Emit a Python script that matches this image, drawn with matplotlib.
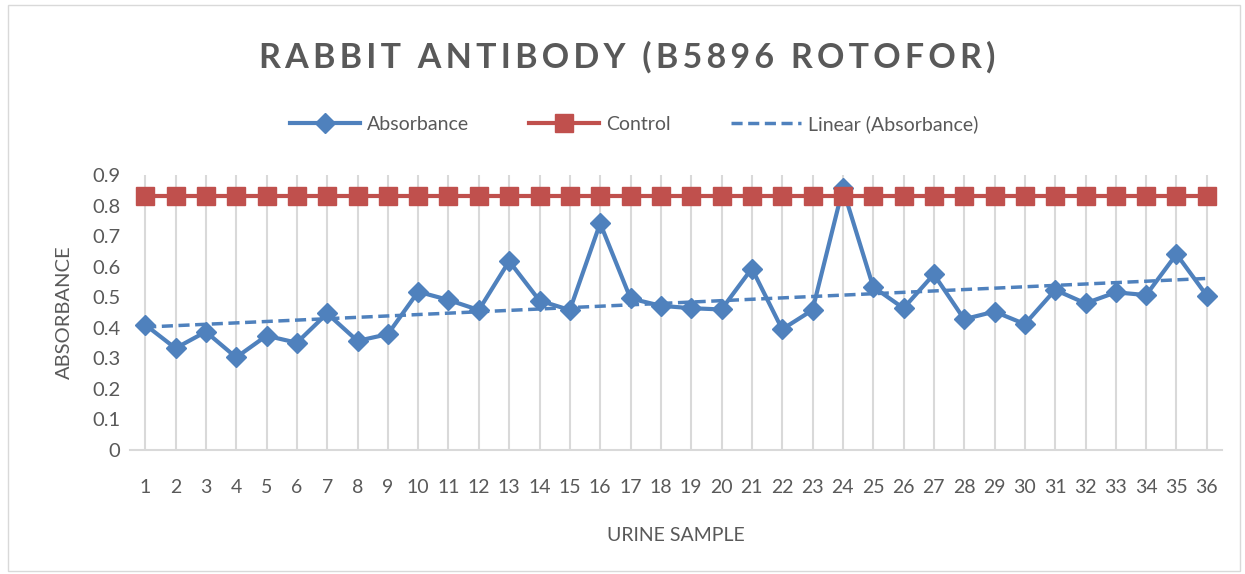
import matplotlib.pyplot as plt
from matplotlib.patches import Rectangle
import numpy as np

plt.rcParams['font.family'] = ['Lato', 'DejaVu Sans']

samples = list(range(1, 37))
absorbance = [0.410, 0.333, 0.387, 0.303, 0.374, 0.351, 0.447, 0.357, 0.379,
              0.518, 0.491, 0.458, 0.618, 0.489, 0.458, 0.742, 0.496, 0.472,
              0.464, 0.460, 0.594, 0.395, 0.458, 0.856, 0.534, 0.464, 0.575,
              0.428, 0.453, 0.412, 0.524, 0.480, 0.516, 0.507, 0.641, 0.505]
control = [0.83] * 36
title = 'RABBIT ANTIBODY (B5896 ROTOFOR)'

blue = '#4f81bd'
red = '#c0504d'
grey = '#595959'

fig = plt.figure(figsize=(12.45, 5.74), dpi=100)
ax = fig.add_axes([130 / 1245, 1 - 450 / 574, 1092 / 1245, 275 / 574])

# chart border
fig.patches.append(Rectangle((8 / 1245, 3 / 574), 1232 / 1245, 566 / 574,
                             transform=fig.transFigure, fill=False,
                             edgecolor='#d9d9d9', linewidth=1))

x = np.array(samples)
ax.plot(x, absorbance, color=blue, lw=3, marker='D', ms=10, label='Absorbance', zorder=3)
ax.plot(x, control, color=red, lw=3, marker='s', ms=13, label='Control', zorder=4)

# linear trendline
k, b = np.polyfit(x, absorbance, 1)
ax.plot(x, k * x + b, color=blue, lw=2.5, ls=(0, (3.2, 1.6)), label='Linear (Absorbance)', zorder=2)

ax.set_xlim(0.5, 36.5)
ax.set_ylim(0, 0.9)
ax.set_yticks(np.arange(0, 0.91, 0.1))
ax.set_yticklabels(['0'] + ['%.1f' % v for v in np.arange(0.1, 0.91, 0.1)])
ax.set_xticks(x)
ax.set_xticklabels([str(s) for s in samples])
ax.grid(axis='x', color='#d9d9d9', lw=1.5, zorder=0)
for s in ['top', 'right', 'left']:
    ax.spines[s].set_visible(False)
ax.spines['bottom'].set_color('#d9d9d9')
ax.spines['bottom'].set_linewidth(1.5)
ax.tick_params(axis='x', length=0, labelsize=14, colors=grey, pad=21)
ax.tick_params(axis='y', length=0, labelsize=14.5, colors=grey, pad=7)

ax.set_xlabel('URINE SAMPLE', fontsize=14, color=grey, labelpad=22)
ax.set_ylabel('ABSORBANCE', fontsize=14.5, color=grey, labelpad=14)

# spread the title letters a little, like the original
spaced = '\u2009'.join(title)
fig.text(627 / 1245, 1 - 57 / 574, spaced, ha='center', va='center',
         fontsize=24.5, fontweight='bold', color=grey)

fig.legend(*ax.get_legend_handles_labels(), loc='center',
           bbox_to_anchor=(634 / 1245, 1 - 124 / 574), ncol=3, frameon=False,
           fontsize=14, labelcolor=grey, handlelength=3.6, columnspacing=3.1, handletextpad=0.35)

fig.savefig('out.png', dpi=100)
